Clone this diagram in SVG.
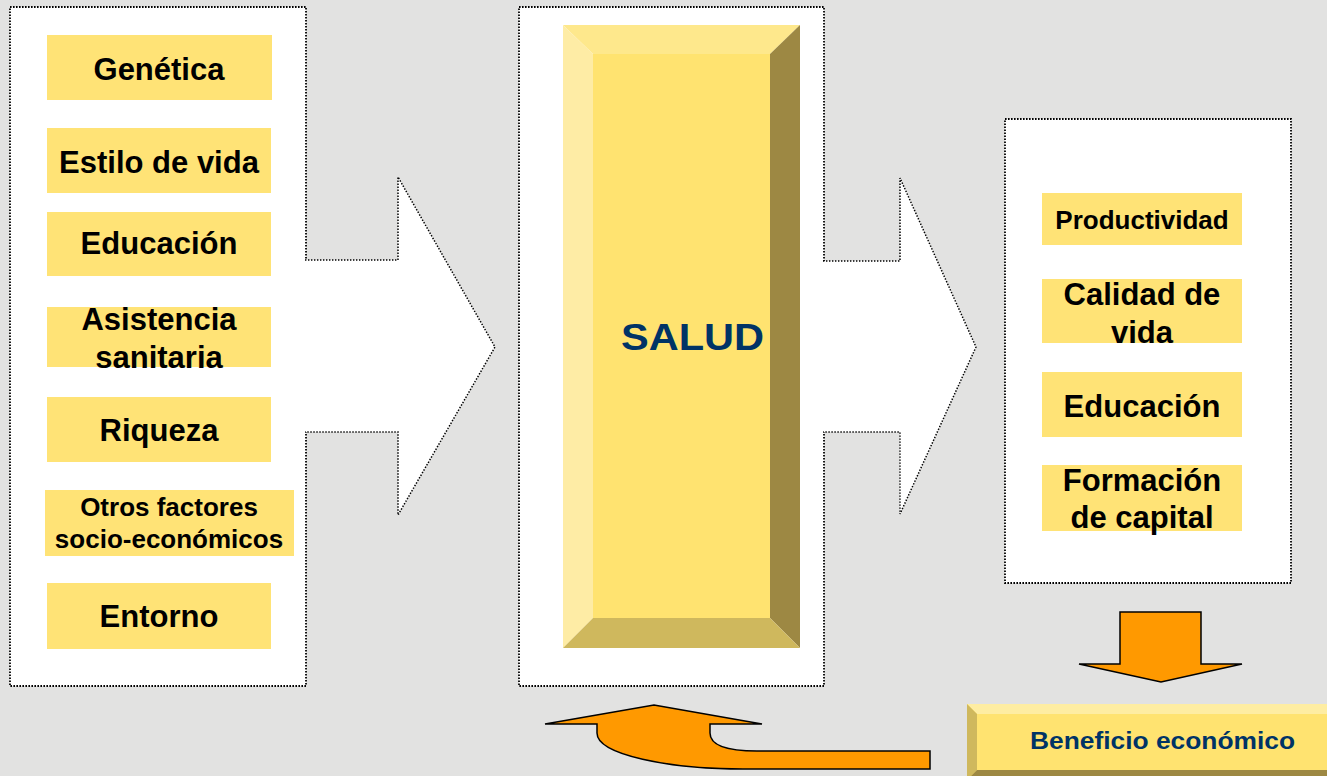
<svg xmlns="http://www.w3.org/2000/svg" width="1327" height="776" viewBox="0 0 1327 776">
<style>
.panel{fill:#fff;stroke:#000;stroke-width:1.8;stroke-dasharray:1.6 1.4}
.bigarrow{fill:#fff;stroke:#000;stroke-width:1.5;stroke-dasharray:1.4 1.6}
.box{fill:#FFE376}
.lbl{font-family:"Liberation Sans",Arial,sans-serif;font-weight:bold;fill:#000;text-anchor:middle}
.l31{font-size:31px}
.l26{font-size:26px}
.orange{fill:#FF9900;stroke:#000;stroke-width:1.5;stroke-linejoin:miter}
.blue{font-family:"Liberation Sans",Arial,sans-serif;font-weight:bold;fill:#003366}
</style>
<rect x="0" y="0" width="1327" height="776" fill="#E2E2E1"/>

<g id="panel-left">
<rect class="panel" x="10" y="7" width="296" height="679"/>
</g>
<g id="panel-center">
<rect class="panel" x="519" y="7" width="305" height="679"/>
</g>
<g id="panel-right">
<rect class="panel" x="1005" y="119" width="286" height="464"/>
</g>

<g id="connectors">
<path class="bigarrow" d="M305,260 H398 V177 L495,347 L398,515 V432 H305"/>
<path class="bigarrow" d="M823,261 H900 V178 L976,347 L900,514 V432 H823"/>
<polygon class="orange" points="1120,612 1201,612 1201,664 1242,664 1161,682 1079,664 1120,664"/>
<path class="orange" d="M545,724 L654,705 L762,724 L710,724 L710,733 C710,745 726,751 757,751 L930,751 L930,769 L743,769 C670,769 597,755 597,733 L597,724 Z"/>
</g>

<g id="salud">
<polygon points="563,25 800,25 770,54 593,54" fill="#FEE88C"/>
<polygon points="563,25 593,54 593,618 563,648" fill="#FEECA5"/>
<polygon points="800,25 800,648 770,618 770,54" fill="#9D8843"/>
<polygon points="563,648 593,618 770,618 800,648" fill="#CFB85D"/>
<rect x="593" y="54" width="177" height="564" fill="#FFE370"/>
<text class="blue" x="621" y="350" font-size="36" textLength="143" lengthAdjust="spacingAndGlyphs">SALUD</text>
</g>

<g id="genetica">
<rect class="box" x="47" y="35" width="225" height="65"/>
<text class="lbl l31" x="159" y="80">Genética</text>
</g>
<g id="estilo">
<rect class="box" x="47" y="128" width="224" height="65"/>
<text class="lbl l31" x="159" y="173">Estilo de vida</text>
</g>
<g id="educacion-l">
<rect class="box" x="47" y="212" width="224" height="64"/>
<text class="lbl l31" x="159" y="254">Educación</text>
</g>
<g id="asistencia">
<rect class="box" x="47" y="307" width="224" height="60"/>
<text class="lbl l31" x="159" y="330">Asistencia</text>
<text class="lbl l31" x="159" y="368">sanitaria</text>
</g>
<g id="riqueza">
<rect class="box" x="47" y="397" width="224" height="65"/>
<text class="lbl l31" x="159" y="441">Riqueza</text>
</g>
<g id="otros">
<rect class="box" x="45" y="490" width="249" height="66"/>
<text class="lbl l26" x="169" y="516">Otros factores</text>
<text class="lbl l26" x="169" y="548">socio-económicos</text>
</g>
<g id="entorno">
<rect class="box" x="47" y="583" width="224" height="66"/>
<text class="lbl l31" x="159" y="627">Entorno</text>
</g>

<g id="productividad">
<rect class="box" x="1042" y="193" width="200" height="52"/>
<text class="lbl l26" x="1142" y="229">Productividad</text>
</g>
<g id="calidad">
<rect class="box" x="1042" y="279" width="200" height="64"/>
<text class="lbl l31" x="1142" y="305">Calidad de</text>
<text class="lbl l31" x="1142" y="343">vida</text>
</g>
<g id="educacion-r">
<rect class="box" x="1042" y="372" width="200" height="65"/>
<text class="lbl l31" x="1142" y="417">Educación</text>
</g>
<g id="formacion">
<rect class="box" x="1042" y="465" width="200" height="66"/>
<text class="lbl l31" x="1142" y="491">Formación</text>
<text class="lbl l31" x="1142" y="528">de capital</text>
</g>

<g id="beneficio">
<rect x="967" y="704" width="380" height="80" fill="#FFE370"/>
<polygon points="967,704 1347,704 1337,714 977,714" fill="#FEEDA2"/>
<polygon points="967,704 977,714 977,770 967,780" fill="#CFB85D"/>
<polygon points="967,780 977,770 1337,770 1347,780" fill="#9D8843"/>
<text class="blue" x="1030" y="749" font-size="24" textLength="265" lengthAdjust="spacingAndGlyphs">Beneficio económico</text>
</g>
</svg>
